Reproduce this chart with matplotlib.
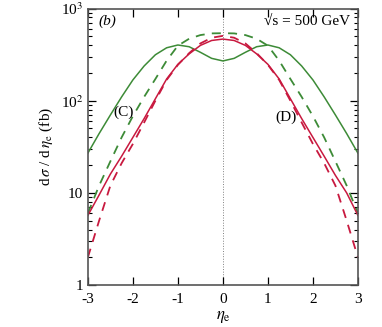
import numpy as np
import matplotlib
matplotlib.use("Agg")
import matplotlib.pyplot as plt
from matplotlib.ticker import FixedLocator, LogLocator, NullFormatter

plt.rcParams['font.family'] = ['Liberation Serif', 'DejaVu Serif']
plt.rcParams['mathtext.fontset'] = 'stix'

# eta_e grid and dsigma/deta_e (fb)
eta = [-3.0, -2.75, -2.5, -2.25, -2.0, -1.75, -1.5, -1.25, -1.0, -0.75, -0.5, -0.25,
       0.0, 0.25, 0.5, 0.75, 1.0, 1.25, 1.5, 1.75, 2.0, 2.25, 2.5, 2.75, 3.0]

green_solid = [27, 44, 70, 110, 168, 238, 315, 375, 402, 385, 335, 288,
               270, 288, 335, 385, 402, 375, 315, 238, 168, 110, 70, 44, 27]
green_dash = [6, 12, 22, 40, 68, 110, 172, 272, 395, 470, 515, 537,
              540, 537, 515, 470, 395, 272, 172, 110, 68, 40, 22, 12, 6]
red_solid = [5.7, 9.5, 16, 25, 40, 64, 105, 172, 248, 322, 398, 450,
             466, 450, 398, 322, 248, 172, 105, 64, 40, 25, 15.5, 10, 5.7]
red_dash = [2.0, 5.0, 12, 21, 34, 58, 100, 168, 245, 328, 418, 482,
            505, 482, 418, 328, 245, 168, 100, 58, 34, 21, 12, 5.0, 2.0]

green = '#3d8b37'
red = '#c8193f'

fig = plt.figure(figsize=(3.82, 3.27), dpi=100)
ax = fig.add_axes([0.230, 0.128, 0.707, 0.846])

ax.axvline(0, color='gray', lw=0.7, ls=':', zorder=1)
ax.plot(eta, green_solid, color=green, lw=1.1)
ax.plot(eta, green_dash, color=green, lw=1.3, dashes=(5, 4))
ax.plot(eta, red_solid, color=red, lw=1.1)
ax.plot(eta, red_dash, color=red, lw=1.3, dashes=(5, 4))

ax.set_yscale('log')
ax.set_xlim(-3, 3)
ax.set_ylim(1, 1000)
ax.xaxis.set_major_locator(FixedLocator([-3, -2, -1, 0, 1, 2, 3]))
ax.set_xticklabels(['-3', '-2', '-1', '0', '1', '2', '3'])
ax.yaxis.set_major_locator(FixedLocator([1, 10, 100, 1000]))
ax.set_yticklabels(['1', '10', r'10$^2$', r'10$^3$'])
ax.yaxis.set_minor_locator(LogLocator(base=10, subs=np.arange(2, 10)))
ax.yaxis.set_minor_formatter(NullFormatter())

ax.tick_params(which='both', direction='in', top=True, right=True, labelsize=11)
ax.tick_params(which='major', length=6, width=0.9)
ax.tick_params(which='minor', length=3, width=0.8)
ax.tick_params(axis='x', pad=6)
for s in ax.spines.values():
    s.set_linewidth(1.2)
    s.set_color('#555555')

ax.set_xlabel(r'$\eta_{\rm e}$', fontsize=12, labelpad=2)
ax.set_ylabel(r'd$\,\sigma$ / d$\,\eta_{\rm e}$ (fb)', fontsize=11, labelpad=4)

ax.text(0.04, 0.955, '(b)', transform=ax.transAxes, style='italic', fontsize=11,
        va='center', ha='left')
ax.text(0.97, 0.955, '\u221as = 500 GeV', transform=ax.transAxes, fontsize=11,
        va='center', ha='right')
ax.text(-2.2, 75, '(C)', fontsize=11, va='center', ha='center')
ax.text(1.4, 66, '(D)', fontsize=11, va='center', ha='center')

fig.savefig('out.png', dpi=100)
